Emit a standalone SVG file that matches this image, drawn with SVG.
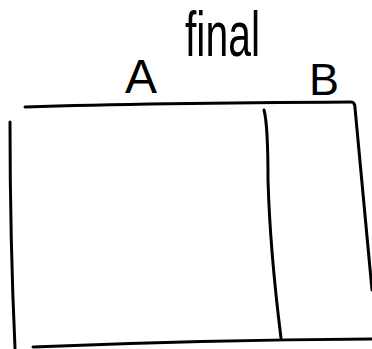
<svg xmlns="http://www.w3.org/2000/svg" width="372" height="349" viewBox="0 0 372 349">
<style>
.ln{fill:none;stroke:#000;stroke-width:3;stroke-linecap:round;stroke-linejoin:round}
.t{font-family:"Liberation Sans",Arial,sans-serif;fill:#000}
</style>
<rect width="372" height="349" fill="#fff"/>
<g id="title"><text class="t" x="185" y="40" font-size="46" textLength="75" lengthAdjust="spacingAndGlyphs" transform="translate(0,56) scale(1,1.35) translate(0,-40)">final</text></g>
<g id="labelA"><text class="t" x="125" y="93" font-size="48">A</text></g>
<g id="labelB"><text class="t" x="309" y="95" font-size="45">B</text></g>
<g id="connectors">
<path class="ln" d="M25,107 Q150,103 351,102 Q355,102 355,108 L372,290"/>
<path class="ln" d="M10,122 Q10,240 15,348"/>
<path class="ln" d="M264,110 Q268,125 268,180 Q270,250 281,338"/>
<path class="ln" d="M33,347 Q200,340 372,339"/>
</g>
</svg>
